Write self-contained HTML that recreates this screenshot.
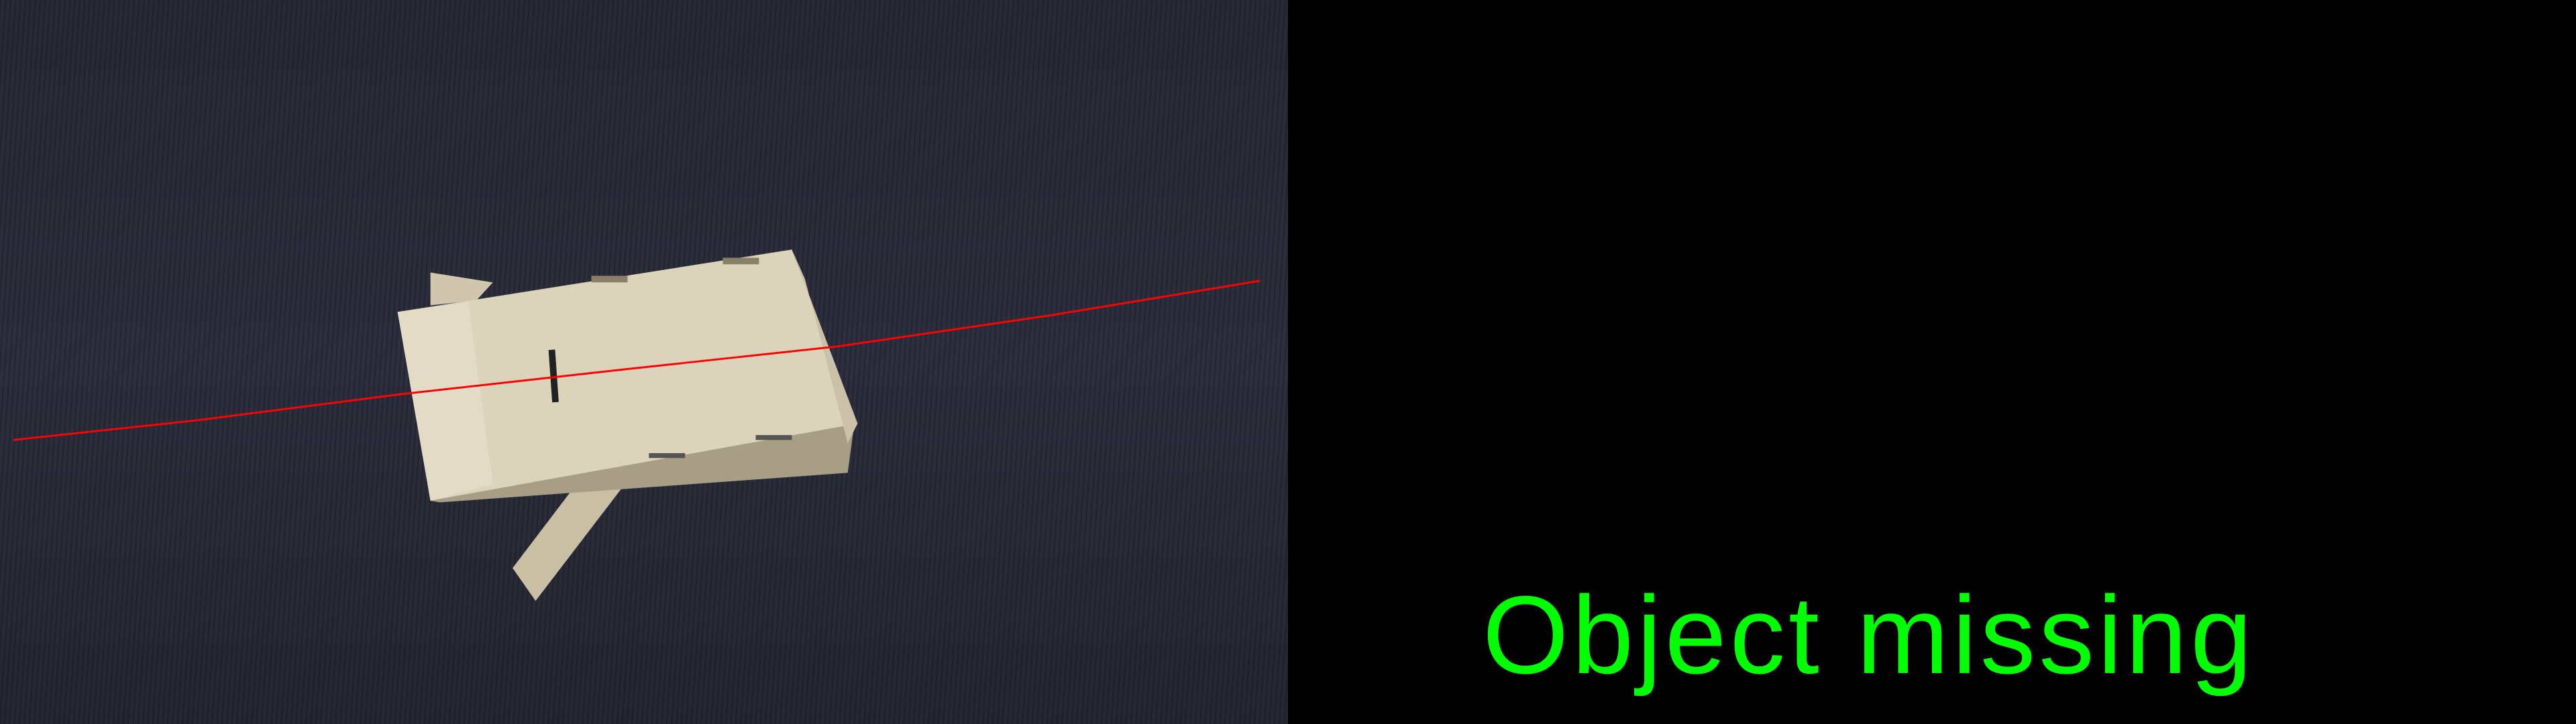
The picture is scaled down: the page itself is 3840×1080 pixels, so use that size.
<!DOCTYPE html>
<html><head><meta charset="utf-8">
<style>
html,body{margin:0;padding:0;background:#000;}
#wrap{position:relative;width:3840px;height:1080px;overflow:hidden;background:#000;}
#scene{position:absolute;left:0;top:0;}
#msg{position:absolute;left:2210px;top:865px;font-family:"Liberation Sans",sans-serif;font-size:165px;color:#00ff00;letter-spacing:5px;white-space:nowrap;line-height:1;}
</style></head>
<body>
<div id="wrap">
<svg id="scene" width="3840" height="1080" viewBox="0 0 1568 441" preserveAspectRatio="none">
  <defs>
    <pattern id="fab" width="3" height="441" patternUnits="userSpaceOnUse" patternTransform="rotate(4)">
      <rect width="3" height="441" fill="#2d2f3e"/>
      <rect width="1" height="441" fill="#242632"/>
    </pattern>
    <linearGradient id="shade" x1="0" y1="0" x2="0" y2="1">
      <stop offset="0" stop-color="#000" stop-opacity="0.12"/>
      <stop offset="0.5" stop-color="#000" stop-opacity="0"/>
      <stop offset="1" stop-color="#000" stop-opacity="0.18"/>
    </linearGradient>
  </defs>
  <rect x="0" y="0" width="784" height="441" fill="url(#fab)"/>
  <rect x="0" y="0" width="784" height="441" fill="url(#shade)"/>
  <rect x="784" y="0" width="784" height="441" fill="#000"/>
  <g>
    <polygon points="262,166 300,172 290,183 262,186" fill="#cfc6ad"/>
    <polygon points="312,346 350,296 378,298 326,366" fill="#c9bfa4"/>
    <polygon points="262,305 520,258 516,288 268,306" fill="#a89e86"/>
    <polygon points="242,190 482,152 522,258 262,305" fill="#dcd3bb"/>
    <polygon points="242,190 285,184 300,295 262,305" fill="#e3dbc5"/>
    <polygon points="482,152 522,258 516,270 490,170" fill="#cbc1a8"/>
    <rect x="335" y="213" width="4" height="32" fill="#222" transform="rotate(-4 337 229)"/>
    <rect x="360" y="168" width="22" height="4" fill="#8a806a"/>
    <rect x="440" y="157" width="22" height="4" fill="#8a806a"/>
    <rect x="395" y="276" width="22" height="3" fill="#555"/>
    <rect x="460" y="265" width="22" height="3" fill="#555"/>
  </g>
  <polyline id="redline" fill="none" stroke="#ff0000" stroke-width="1.2"/>
</svg>
<div id="msg">Object missing</div>
</div>
<script>
const lineX = [8, 120, 245, 380, 510, 640, 767];
const lineY = [268, 256, 240, 225, 211, 192, 171];
const pl = document.getElementById('redline');
pl.setAttribute('points', lineX.map((x, i) => x + ',' + lineY[i]).join(' '));
</script>
</body></html>
